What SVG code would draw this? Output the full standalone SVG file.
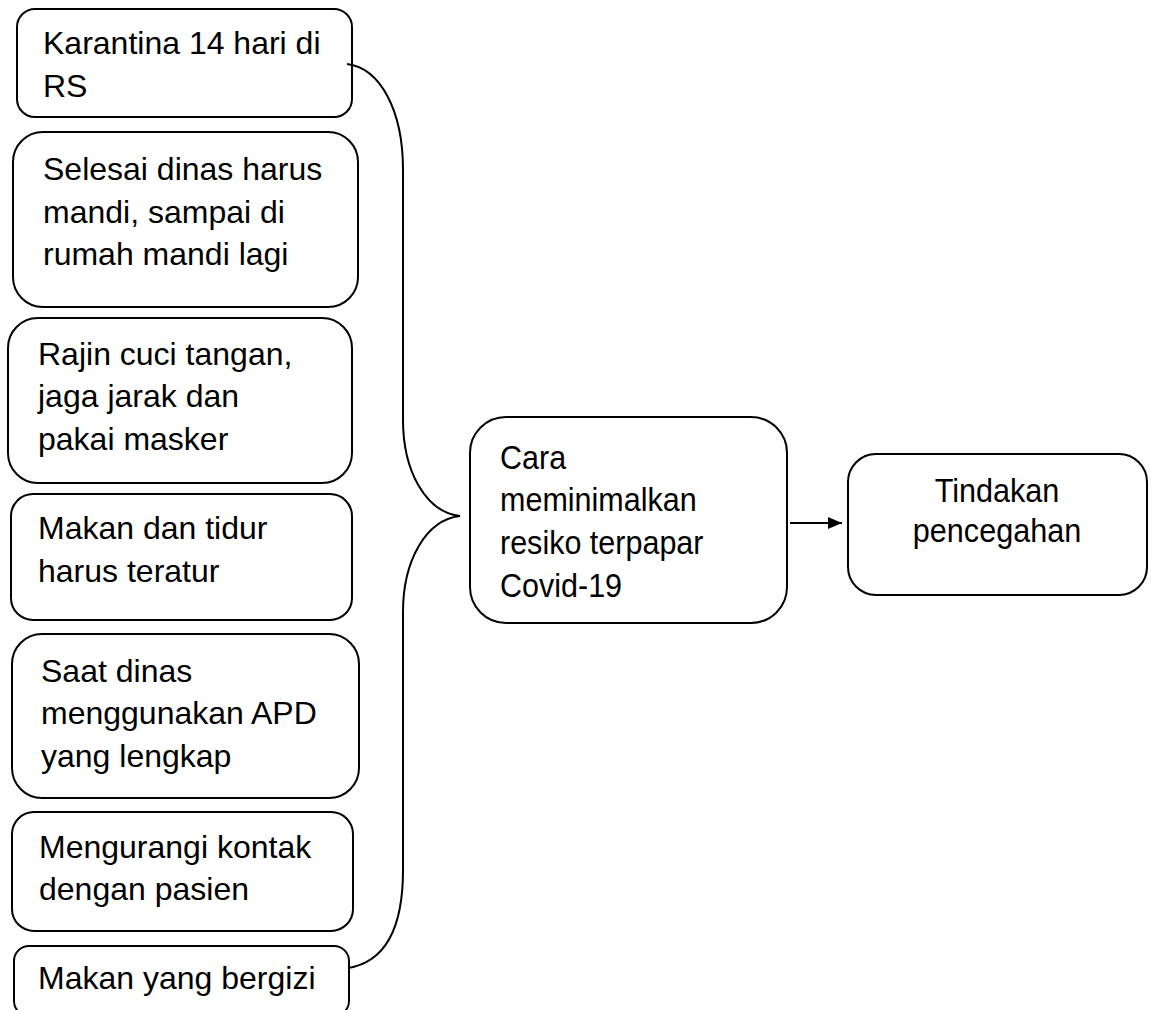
<svg xmlns="http://www.w3.org/2000/svg" width="1153" height="1010" viewBox="0 0 1153 1010">
<style>
.box{fill:#fff;stroke:#000;stroke-width:2}
.t{font-family:"Liberation Sans",Arial,sans-serif;font-size:32px;fill:#000}
.tc{font-family:"Liberation Sans",Arial,sans-serif;font-size:33px;fill:#000}
.tr{font-family:"Liberation Sans",Arial,sans-serif;font-size:34px;fill:#000;text-anchor:middle}
.conn{fill:none;stroke:#000;stroke-width:2}
</style>
<defs>
<marker id="arr" markerWidth="14" markerHeight="12" refX="14" refY="6" orient="auto" markerUnits="userSpaceOnUse" viewBox="0 0 14 12">
<path d="M0,0 L14,6 L0,12 Z" fill="#000"/>
</marker>
</defs>
<rect width="1153" height="1010" fill="#fff"/>
<g id="n1"><rect class="box" x="17" y="9" width="335" height="108" rx="18"/>
<text class="t" x="43" y="54">Karantina 14 hari di</text><text class="t" x="43" y="97">RS</text></g>
<g id="n2"><rect class="box" x="13" y="132" width="345" height="175" rx="30"/>
<text class="t" x="43" y="180">Selesai dinas harus</text><text class="t" x="43" y="223">mandi, sampai di</text><text class="t" x="43" y="265">rumah mandi lagi</text></g>
<g id="n3"><rect class="box" x="8" y="318" width="344" height="165" rx="30"/>
<text class="t" x="38" y="365">Rajin cuci tangan,</text><text class="t" x="38" y="407">jaga jarak dan</text><text class="t" x="38" y="450">pakai masker</text></g>
<g id="n4"><rect class="box" x="11" y="494" width="341" height="126" rx="22"/>
<text class="t" x="38" y="539">Makan dan tidur</text><text class="t" x="38" y="582">harus teratur</text></g>
<g id="n5"><rect class="box" x="12" y="634" width="347" height="164" rx="30"/>
<text class="t" x="41" y="682">Saat dinas</text><text class="t" x="41" y="724">menggunakan APD</text><text class="t" x="41" y="767">yang lengkap</text></g>
<g id="n6"><rect class="box" x="12" y="812" width="341" height="119" rx="22"/>
<text class="t" x="39" y="858">Mengurangi kontak</text><text class="t" x="39" y="900">dengan pasien</text></g>
<g id="n7"><rect class="box" x="14" y="946" width="335" height="70" rx="15"/>
<text class="t" x="38" y="989">Makan yang bergizi</text></g>
<g id="center"><rect class="box" x="470" y="417" width="317" height="206" rx="36"/>
<g transform="translate(500,0) scale(0.925,1)">
<text class="tc" x="0" y="469">Cara</text><text class="tc" x="0" y="511">meminimalkan</text><text class="tc" x="0" y="554">resiko terpapar</text><text class="tc" x="0" y="597">Covid-19</text></g></g>
<g id="right"><rect class="box" x="848" y="454" width="299" height="141" rx="28"/>
<g transform="translate(997,0) scale(0.9,1)">
<text class="tr" x="0" y="502">Tindakan</text><text class="tr" x="0" y="542">pencegahan</text></g></g>
<g id="connectors">
<path class="conn" d="M347,64 C380,68 403,110 403,170 L403,420 C403,470 425,512 460,516 C425,520 403,562 403,612 L403,870 C403,930 385,962 348,968"/>
<line class="conn" x1="790" y1="523" x2="842" y2="523" marker-end="url(#arr)"/>
</g>
</svg>
